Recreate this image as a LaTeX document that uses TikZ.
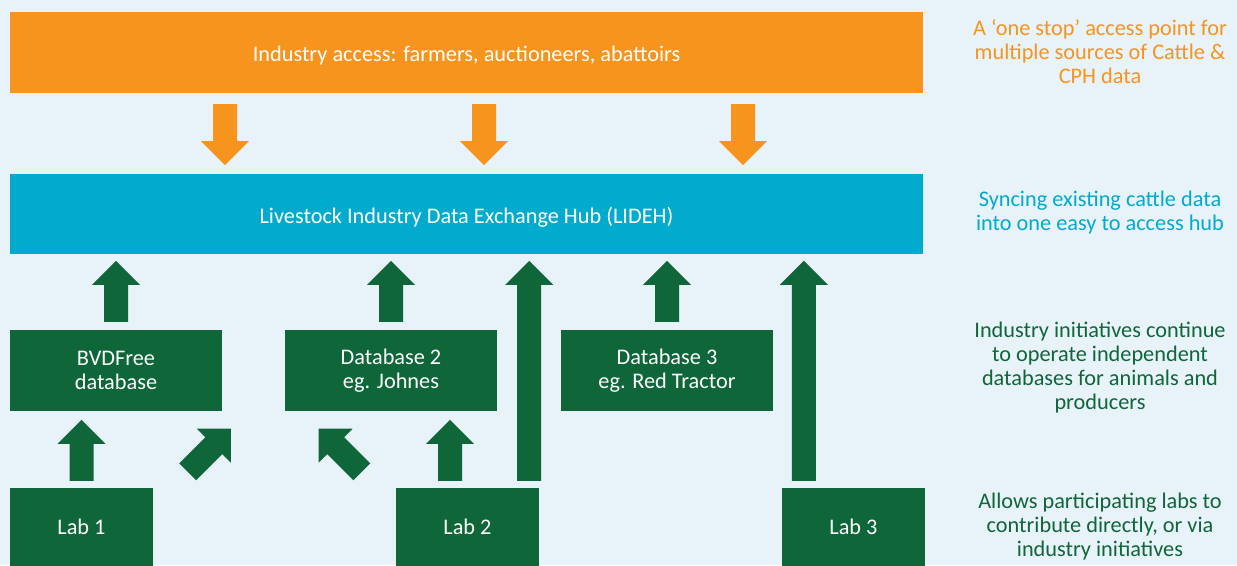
\documentclass[tikz,border=0pt]{standalone}
\usepackage{fontspec}
\setmainfont{Carlito}
\usetikzlibrary{calc}

\definecolor{accessorange}{HTML}{F7941D}
\definecolor{hubblue}{HTML}{00ABCE}
\definecolor{dbgreen}{HTML}{0E6639}
\definecolor{paleblue}{HTML}{E8F2F9}

% block arrow: colour, tail point, rotation, length
\newcommand{\blockarrow}[4]{%
  \fill[#1, shift={#2}, rotate=#3] (-12,0) -- (-12,24-#4) -- (-24,24-#4) -- (0,-#4)
    -- (24,24-#4) -- (12,24-#4) -- (12,0) -- cycle;}

\begin{document}
\begin{tikzpicture}[x=1pt,y=-1pt,
    box/.style={rectangle,inner sep=0pt,text=white,align=center,
      font=\fontsize{22.3}{24}\selectfont},
    widebox/.style={box,minimum width=913pt,minimum height=81pt},
    dbbox/.style={box,fill=dbgreen,minimum width=212pt,minimum height=81pt},
    labbox/.style={box,fill=dbgreen,minimum width=143pt,minimum height=78pt},
    note/.style={align=center,inner sep=0pt,font=\fontsize{22.3}{24}\selectfont}]
	\fill[paleblue] (0,0) rectangle (1237,565);
	\useasboundingbox (0,0) rectangle (1237,565);
	\clip (0,0) rectangle (1237,565);

	\node[widebox,fill=accessorange] (access) at (466.5,52.5) {\raisebox{-3pt}[\height][\depth]{Industry access: farmers, auctioneers, abattoirs}};
	\node[widebox,fill=hubblue,minimum height=80pt] (hub) at (466.5,214) {\raisebox{-3pt}[\height][\depth]{Livestock Industry Data Exchange Hub (LIDEH)}};

	\node[dbbox] (bvd) at (116,370.5) {BVDFree\\database};
	\node[dbbox] (db2) at (391,370.5) {Database 2\\eg. Johnes};
	\node[dbbox] (db3) at (667,370.5) {Database 3\\eg. Red Tractor};

	\node[labbox] (lab1) at (81.5,527) {Lab 1};
	\node[labbox] (lab2) at (467.5,527) {Lab 2};
	\node[labbox] (lab3) at (853.5,527) {Lab 3};

	\node[note,text=accessorange] (note1) at (1100,52) {A ‘one stop’ access point for\\multiple sources of Cattle \&\\CPH data};
	\node[note,text=hubblue] (note2) at (1100,213) {Syncing existing cattle data\\into one easy to access hub};
	\node[note,text=dbgreen] (note3) at (1100,368) {Industry initiatives continue\\to operate independent\\databases for animals and\\producers};
	\node[note,text=dbgreen] (note4) at (1100,527) {Allows participating labs to\\contribute directly, or via\\industry initiatives};

	\blockarrow{accessorange}{($(access.south)+(-241.5,11)$)}{180}{61}
	\blockarrow{accessorange}{($(access.south)+(17.5,11)$)}{180}{61}
	\blockarrow{accessorange}{($(access.south)+(276.5,11)$)}{180}{61}

	\blockarrow{dbgreen}{($(bvd.north)+(0,-8)$)}{0}{61}
	\blockarrow{dbgreen}{($(db2.north)+(0,-8)$)}{0}{61}
	\blockarrow{dbgreen}{($(db3.north)+(0,-8)$)}{0}{61}

	\blockarrow{dbgreen}{($(lab1.north)+(0,-7)$)}{0}{61}
	\blockarrow{dbgreen}{($(lab1.north east)+(34.5,-16)$)}{-45}{61}
	\blockarrow{dbgreen}{($(lab2.north west)+(-34,-16)$)}{45}{61}
	\blockarrow{dbgreen}{($(lab2.north)+(-17.5,-7)$)}{0}{61}
	\blockarrow{dbgreen}{($(lab2.north east)+(-10,-7)$)}{0}{220}
	\blockarrow{dbgreen}{($(lab3.north west)+(22,-7)$)}{0}{220}
\end{tikzpicture}
\end{document}
